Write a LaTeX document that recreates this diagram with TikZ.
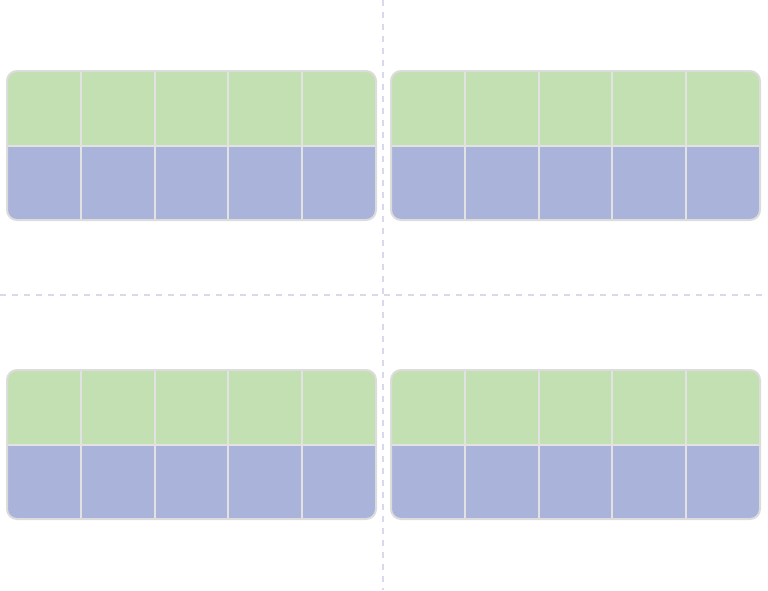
\documentclass[tikz,border=0pt]{standalone}
\definecolor{tfgreen}{HTML}{C2E0B2}
\definecolor{tfblue}{HTML}{AAB3DA}
\definecolor{tfline}{HTML}{E2E2E2}
\definecolor{tfborder}{HTML}{DCDCDC}
\definecolor{guide}{HTML}{D9D9EE}
\tikzset{
  guideline/.style={guide, line width=1.2pt, dash pattern=on 6pt off 6pt},
  cellline/.style={tfline, line width=2pt},
  frameborder/.style={tfborder, line width=2pt, rounded corners=10pt},
}
\begin{document}
\begin{tikzpicture}[x=1pt,y=-1pt]
\useasboundingbox (0,0) rectangle (768,590);
\draw[guideline] (383,0) -- (383,590);
\draw[guideline] (0,295) -- (768,295);
\foreach \xo/\yo in {7/71, 391/71, 7/370, 391/370}{
  \begin{scope}
    \clip[rounded corners=10pt] (\xo,\yo) rectangle ++(369,149);
    \fill[tfgreen] (\xo,\yo) rectangle ++(369,74.5);
    \fill[tfblue] (\xo,\yo+74.5) rectangle ++(369,74.5);
    \foreach \i in {1,2,3,4}{
      \draw[cellline] (\xo+\i*73.8,\yo) -- ++(0,149);
    }
    \draw[cellline] (\xo,\yo+74.5) -- ++(369,0);
  \end{scope}
  \draw[frameborder] (\xo,\yo) rectangle ++(369,149);
}
\end{tikzpicture}
\end{document}
